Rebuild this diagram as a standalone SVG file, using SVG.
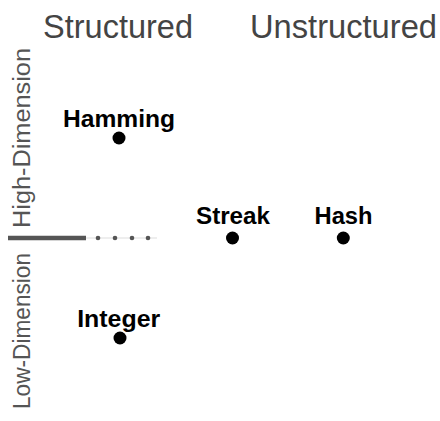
<svg xmlns="http://www.w3.org/2000/svg" width="440" height="421" viewBox="0 0 440 421">
<style>
.title{font-family:"Liberation Sans",Arial,sans-serif;font-size:32.5px;fill:#444;}
.axis{font-family:"Liberation Sans",Arial,sans-serif;font-size:23px;fill:#555;}
.lbl{font-family:"Liberation Sans",Arial,sans-serif;font-size:24px;font-weight:bold;fill:#000;text-anchor:middle;}
.dot{fill:#000;}
.sdot{fill:#555;}
</style>
<rect width="440" height="421" fill="#fff"/>
<g id="titles">
<text class="title" x="43" y="38" textLength="150" lengthAdjust="spacingAndGlyphs">Structured</text>
<text class="title" x="250" y="38" textLength="187" lengthAdjust="spacingAndGlyphs">Unstructured</text>
<text class="axis" transform="translate(30,228) rotate(-90)" textLength="180" lengthAdjust="spacingAndGlyphs">High-Dimension</text>
<text class="axis" transform="translate(30,409) rotate(-90)" textLength="156" lengthAdjust="spacingAndGlyphs">Low-Dimension</text>
</g>
<g id="connectors">
<line x1="86" y1="238" x2="157" y2="238" stroke="#ddd" stroke-width="1"/>
<line x1="8" y1="238" x2="86" y2="238" stroke="#555" stroke-width="4.5"/>
<circle class="sdot" cx="98" cy="238" r="2.3"/>
<circle class="sdot" cx="115" cy="238" r="2.3"/>
<circle class="sdot" cx="132" cy="238" r="2.3"/>
<circle class="sdot" cx="148" cy="238" r="2.3"/>
</g>
<g id="hamming">
<text class="lbl" x="119" y="127" textLength="112" lengthAdjust="spacingAndGlyphs">Hamming</text>
<circle class="dot" cx="119" cy="138" r="6.5"/>
</g>
<g id="streak">
<text class="lbl" x="233" y="224" textLength="74" lengthAdjust="spacingAndGlyphs">Streak</text>
<circle class="dot" cx="232.5" cy="238" r="6.5"/>
</g>
<g id="hash">
<text class="lbl" x="343.5" y="224" textLength="58" lengthAdjust="spacingAndGlyphs">Hash</text>
<circle class="dot" cx="343.3" cy="238" r="6.5"/>
</g>
<g id="integer">
<text class="lbl" x="118.7" y="327" textLength="83" lengthAdjust="spacingAndGlyphs">Integer</text>
<circle class="dot" cx="120" cy="338" r="6.5"/>
</g>
</svg>
